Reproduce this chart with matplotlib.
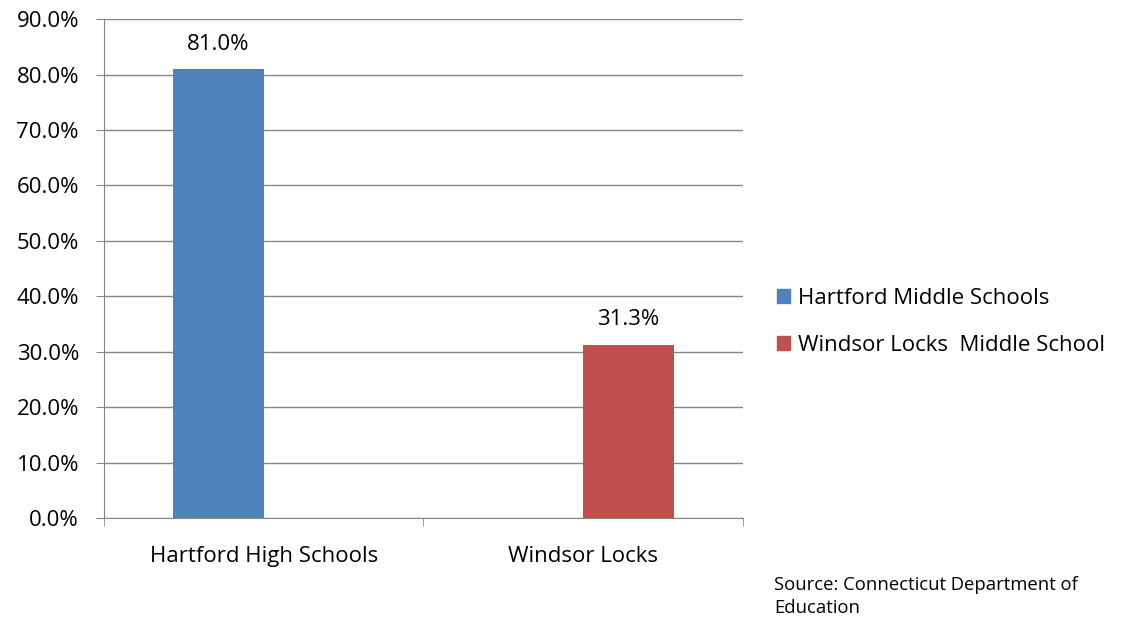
import numpy as np
import matplotlib.pyplot as plt
from matplotlib.patches import Patch

plt.rcParams['font.family'] = ['Open Sans', 'DejaVu Sans']

categories = ["Hartford High Schools", "Windsor Locks"]
series_names = ["Hartford Middle Schools", "Windsor Locks  Middle School"]
hartford_ms = [81.0, np.nan]
windsor_ms = [np.nan, 31.3]
colors = ["#4F81BD", "#C0504D"]

fig = plt.figure(figsize=(11.24, 6.2), dpi=100)
ax = fig.add_axes([0.0925, 0.1645, 0.5685, 0.8045])

x = np.arange(len(categories))
w = 0.285
for vals, off, c in [(hartford_ms, -0.142, colors[0]), (windsor_ms, 0.142, colors[1])]:
    v = np.nan_to_num(vals)
    bars = ax.bar(x + off, v, width=w, color=c, zorder=3)
    for b, val in zip(bars, vals):
        if not np.isnan(val):
            ax.text(b.get_x() + b.get_width() / 2, val + 2.6, f"{val:.1f}%",
                    ha="center", va="bottom", fontsize=16)

ax.set_xlim(-0.5, 1.5)
ax.set_ylim(0, 90)
ax.set_yticks(np.arange(0, 91, 10))
ax.set_yticklabels([f"{t:.1f}%" for t in np.arange(0, 91, 10)], fontsize=16)
ax.yaxis.grid(True, color="#868686", linewidth=1, zorder=0)
ax.set_xticks(x)
ax.set_xticklabels(categories, fontsize=16)
ax.set_xticks([-0.5, 0.5, 1.5], minor=True)
ax.tick_params(axis="x", which="major", length=0, pad=20)
ax.tick_params(axis="x", which="minor", length=6, color="#868686")
ax.tick_params(axis="y", length=6, color="#868686", pad=12)
for s in ["top", "right"]:
    ax.spines[s].set_visible(False)
for s in ["left", "bottom"]:
    ax.spines[s].set_color("#868686")

handles = [Patch(color=c) for c in colors]
fig.legend(handles, series_names, loc="center left", bbox_to_anchor=(0.691, 0.481),
           frameon=False, fontsize=16, handlelength=0.6, handleheight=0.6,
           handletextpad=0.35, labelspacing=1.15, borderpad=0, borderaxespad=0)

fig.text(0.689, 0.038, "Source: Connecticut Department of\nEducation", fontsize=13.3,
         va="center", linespacing=1.4)

fig.savefig("out.png", dpi=100)
